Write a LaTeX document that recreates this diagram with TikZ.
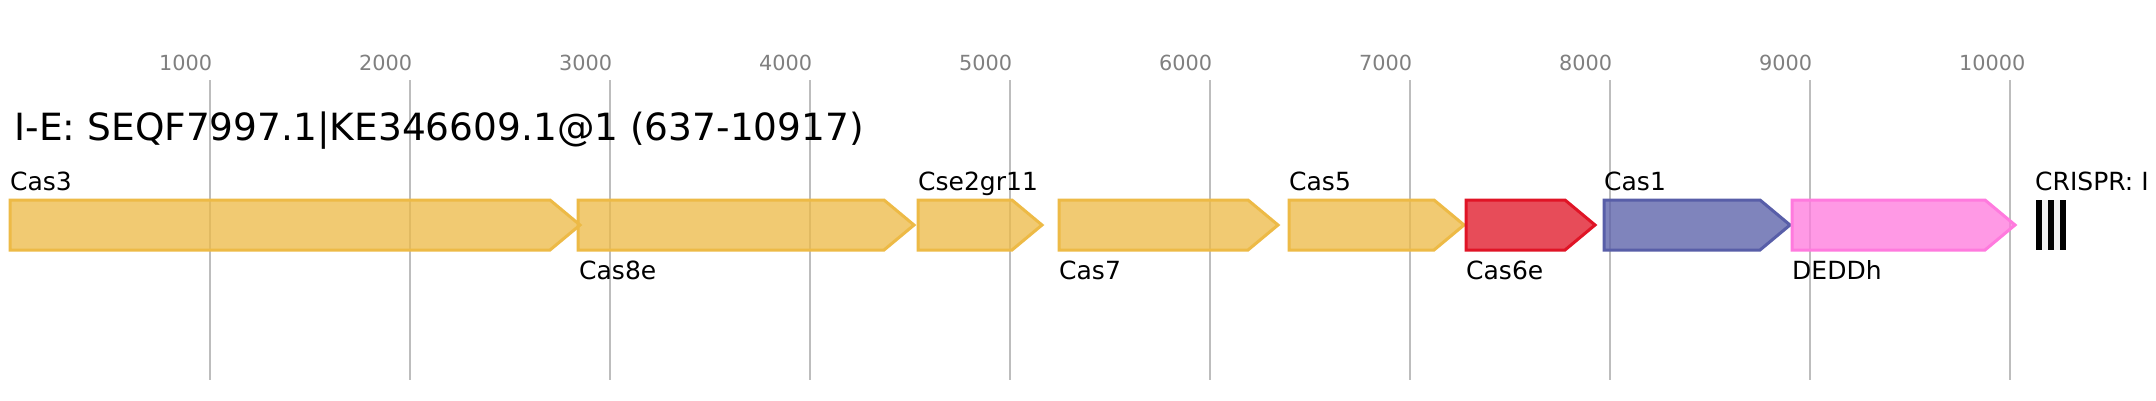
\documentclass[tikz,border=0pt]{standalone}
\usepackage{fontspec}
\setmainfont{DejaVu Sans}
\definecolor{yelS}{RGB}{237,186,70}
\definecolor{redS}{RGB}{224,20,38}
\definecolor{bluS}{RGB}{88,94,168}
\definecolor{pnkS}{RGB}{255,122,222}
\definecolor{gridc}{RGB}{189,189,189}
\definecolor{tickc}{RGB}{128,128,128}
\definecolor{spacerc}{RGB}{240,240,240}
\newcommand{\genearrow}[3]{%
  \draw[genebox, draw=#3, fill=#3] (#1,200) -- ({#2-30},200) -- (#2,225) -- ({#2-30},250) -- (#1,250) -- cycle;}
\begin{document}
\begin{tikzpicture}[x=1pt,y=-1pt,
  genebox/.style={line width=3pt, line join=miter, fill opacity=0.76},
  gridline/.style={draw=gridc, line width=1.6pt},
  ticklabel/.style={anchor=base west, inner sep=0pt, text=tickc, font=\fontsize{20.8}{24}\selectfont},
  genelabel/.style={anchor=base west, inner sep=0pt, font=\fontsize{25}{28}\selectfont},
  titlelabel/.style={anchor=base west, inner sep=0pt, font=\fontsize{37.5}{42}\selectfont}]
\useasboundingbox[fill=white] (0,0) rectangle (2156,400);
% grid lines and scale labels
\foreach \k in {1000,2000,...,10000}{
  \pgfmathsetmacro{\gx}{10+0.2*\k}
  \draw[gridline] (\gx,80) -- (\gx,380);
  \node[ticklabel] (tick\k) at ({\gx-51},70) {\k};
}
% title
\node[titlelabel] (title) at (14.5,140.7) {I-E: SEQF7997.1|KE346609.1@1 (637-10917)};
% genes
\genearrow{10}{580}{yelS}
\genearrow{578}{914}{yelS}
\genearrow{918}{1042}{yelS}
\genearrow{1059}{1278}{yelS}
\genearrow{1289}{1464}{yelS}
\genearrow{1466}{1595}{redS}
\genearrow{1604}{1790}{bluS}
\genearrow{1792}{2015}{pnkS}
% gene labels
\node[genelabel] (lCas3) at (10,190) {Cas3};
\node[genelabel] (lCas8e) at (579,279) {Cas8e};
\node[genelabel] (lCse) at (918,190) {Cse2gr11};
\node[genelabel] (lCas7) at (1059,279) {Cas7};
\node[genelabel] (lCas5) at (1289,190) {Cas5};
\node[genelabel] (lCas6e) at (1466,279) {Cas6e};
\node[genelabel] (lCas1) at (1604,190) {Cas1};
\node[genelabel] (lDEDDh) at (1792,279) {DEDDh};
% CRISPR array
\fill[spacerc] (2036,200) rectangle (2066,250);
\foreach \bx in {2036,2048,2060}{
  \fill[black] (\bx,200) rectangle ({\bx+6},250);
}
\node[genelabel] (lCRISPR) at (2035,190) {CRISPR: I};
\end{tikzpicture}
\end{document}
